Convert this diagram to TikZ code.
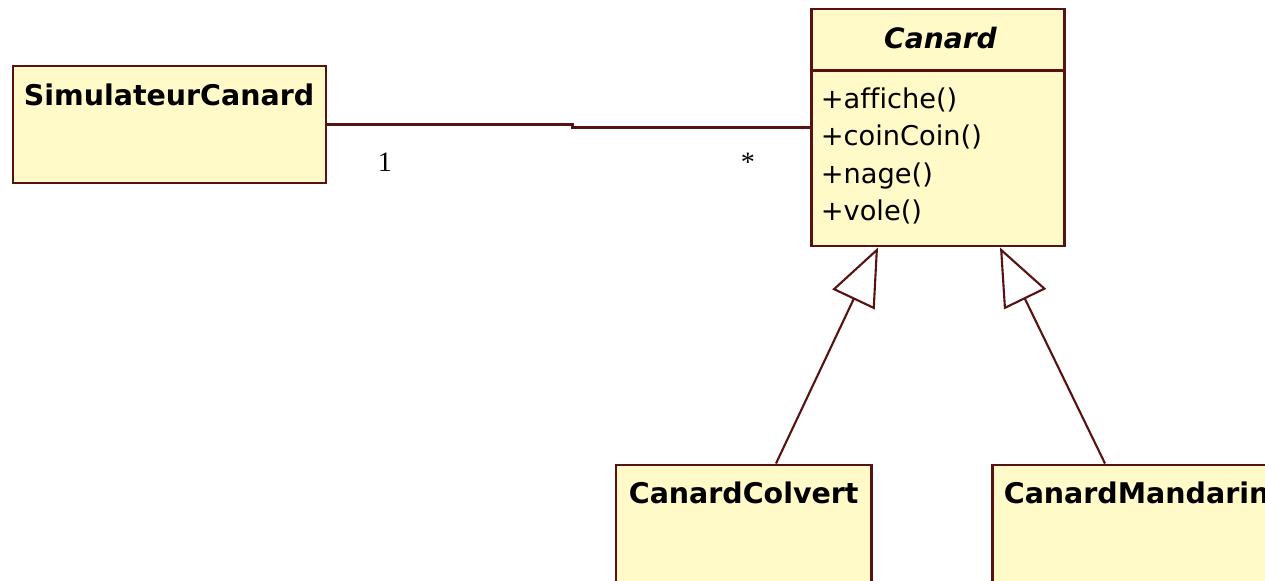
\documentclass[tikz,border=0pt]{standalone}
\usepackage{fontspec}
\setmainfont{Liberation Serif}
\setsansfont{DejaVu Sans}[Ligatures=CommonOff]
\usetikzlibrary{calc}
\usetikzlibrary{arrows.meta}
\definecolor{umlborder}{RGB}{88,18,18}
\definecolor{umlfill}{RGB}{255,250,200}
\tikzstyle{classbox} = [draw=umlborder, fill=umlfill, line width=1.7pt,
rectangle, inner sep=0pt]
\tikzstyle{classname} = [font=\sffamily\bfseries\fontsize{16.2}{19}\selectfont,
inner sep=0pt, anchor=base west]
\tikzstyle{methods} = [font=\sffamily\fontsize{15.5}{21.2}\selectfont,
inner sep=0pt, align=left, anchor=north west]
\tikzstyle{assoc} = [draw=umlborder, line width=1.2pt]
\tikzstyle{inherit} = [draw=umlborder, line width=1.2pt,
-{Triangle[open, length=1.15cm, width=0.93cm, fill=white]}]
\tikzstyle{mult} = [font=\fontsize{16}{19}\selectfont, inner sep=0pt, anchor=base]

\begin{document}
\begin{tikzpicture}[x=0.02cm, y=-0.02cm]
    \clip (0,0) rectangle (1265,581);
    \fill[white] (0,0) rectangle (1265,581);
    % classes
    \node[classbox, minimum width=313*0.02cm, minimum height=117*0.02cm] (sim) at (169.5,124.5) {};
    \node[classbox, minimum width=253*0.02cm, minimum height=237*0.02cm] (canard) at (937.5,127.5) {};
    \node[classbox, minimum width=255*0.02cm, minimum height=140*0.02cm] (colvert) at (743.5,535) {};
    \node[classbox, minimum width=290*0.02cm, minimum height=140*0.02cm] (mandarin) at (1137,535) {};
    \draw[umlborder, line width=1.7pt] ($(canard.north west)+(0,63)$) -- ($(canard.north east)+(0,63)$);
    % texts
    \node[classname] (simname) at ($(sim.north west)+(12,41)$) {SimulateurCanard};
    \node[classname, anchor=base, font=\sffamily\bfseries\itshape\fontsize{16}{19}\selectfont]
        (canardname) at ($(canard.north)+(3,41)$) {Canard};
    \node[methods] (canardops) at ($(canard.north west)+(11,80)$)
        {+affiche()\\+coinCoin()\\+nage()\\+vole()};
    \node[classname] (colvertname) at ($(colvert.north west)+(14,40)$) {CanardColvert};
    \node[classname] (mandarinname) at ($(mandarin.north west)+(13,40)$) {CanardMandarin};
    % association
    \draw[assoc] (sim.east) -- ++(245,0) |- (canard.west);
    \node[mult] (multone) at (385,172) {1};
    \node[mult] (multmany) at (748,172) {*};
    % inheritance
    \draw[inherit] ([xshift=0.65cm]colvert.north) -- ([xshift=-1.19cm]canard.south);
    \draw[inherit] ([xshift=-0.64cm]mandarin.north) -- ([xshift=1.25cm]canard.south);
\end{tikzpicture}
\end{document}
